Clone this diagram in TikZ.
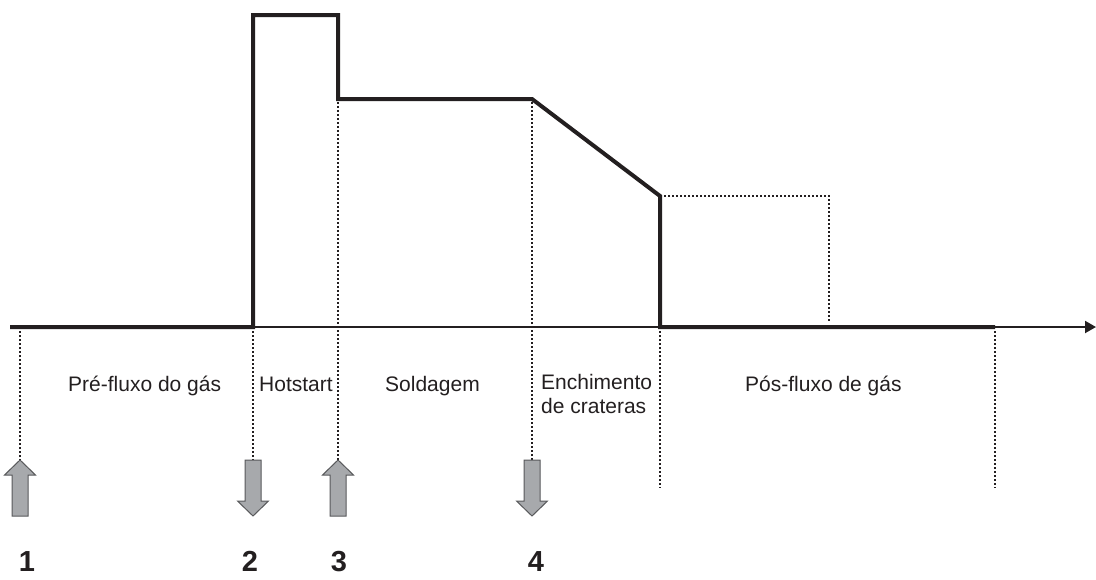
\documentclass[tikz,border=0pt]{standalone}
\usepackage{fontspec}
\setmainfont{Liberation Sans}
\usetikzlibrary{arrows.meta}
\definecolor{ink}{HTML}{231F20}
\definecolor{arrowfill}{HTML}{A7A9AC}
\definecolor{arrowedge}{HTML}{58595B}
\tikzset{
  wave/.style={line width=4pt, draw=ink, line join=miter},
  axisline/.style={line width=2pt, draw=ink},
  guide/.style={line width=2.3pt, draw=ink, dash pattern=on 2pt off 2pt},
  marker/.style={fill=arrowfill, draw=arrowedge, line width=1pt, line join=miter},
  phase/.style={anchor=base west, inner sep=0pt, text=ink, font=\fontsize{21}{24}\selectfont, align=left},
  num/.style={anchor=base, inner sep=0pt, text=ink, font=\fontsize{29}{30}\selectfont\bfseries}
}
\begin{document}
\begin{tikzpicture}[x=1pt,y=-1pt]
\useasboundingbox (0,0) rectangle (1096,579);
% key coordinates
\coordinate (a0) at (10,327);
\coordinate (a1) at (253,327);
\coordinate (a2) at (660,327);
\coordinate (a3) at (995,327);
\coordinate (aend) at (1096,327);
\coordinate (p1) at (253,15);
\coordinate (p2) at (338,15);
\coordinate (p3) at (338,99);
\coordinate (p4) at (532,99);
\coordinate (p5) at (660,196);
\coordinate (r1) at (829,196);
\coordinate (r2) at (829,322);
% axis
\draw[axisline, -{Triangle[length=11pt,width=12pt]}] (a1) -- (aend);
% dotted guides
\draw[guide] (p5) -- (r1) -- (r2);
\draw[guide] (20,331) -- (20,460);
\draw[guide] (253,331) -- (253,460);
\draw[guide] (p3) ++(0,3) -- (338,460);
\draw[guide] (p4) ++(0,3) -- (532,460);
\draw[guide] (660,331) -- (660,488);
\draw[guide] (995,331) -- (995,488);
% waveform
\draw[wave] (a0) -- (a1) -- (p1) -- (p2) -- (p3) -- (p4) -- (p5) -- (a2) -- (a3);
% up arrows
\foreach \c in {20,338}{
  \draw[marker] (\c,460) -- (\c+15.5,475) -- (\c+8,475) -- (\c+8,516) -- (\c-8,516) -- (\c-8,475) -- (\c-15.5,475) -- cycle;
}
% down arrows
\foreach \c in {253,532}{
  \draw[marker] (\c,516) -- (\c+15.5,501) -- (\c+8,501) -- (\c+8,460) -- (\c-8,460) -- (\c-8,501) -- (\c-15.5,501) -- cycle;
}
% phase labels
\node[phase] (l1) at (68,391) {Pré-fluxo do gás};
\node[phase] (l2) at (259,391) {Hotstart};
\node[phase] (l3) at (385,391) {Soldagem};
\node[phase, anchor=north west] (l4) at (541,374.5) {Enchimento\\de crateras};
\node[phase] (l5) at (745,391) {Pós-fluxo de gás};
% numbers
\node[num] (n1) at (27,571) {1};
\node[num] (n2) at (250,571) {2};
\node[num] (n3) at (339,571) {3};
\node[num] (n4) at (536,571) {4};
\end{tikzpicture}
\end{document}
